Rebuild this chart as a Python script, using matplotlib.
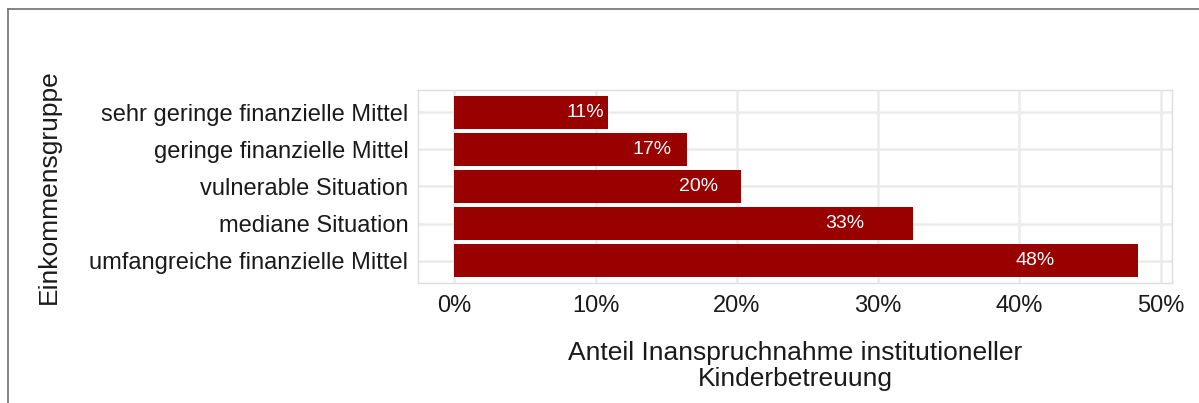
import matplotlib.pyplot as plt
from matplotlib.lines import Line2D
import numpy as np

plt.rcParams['font.family'] = ['Liberation Sans', 'DejaVu Sans']

groups = ['sehr geringe finanzielle Mittel', 'geringe finanzielle Mittel',
          'vulnerable Situation', 'mediane Situation',
          'umfangreiche finanzielle Mittel']
shares = [10.9, 16.5, 20.3, 32.5, 48.4]
labels = ['11%', '17%', '20%', '33%', '48%']
xticks = [0, 10, 20, 30, 40, 50]

fig = plt.figure(figsize=(11.99, 4.03), dpi=100)
ax = fig.add_axes([418 / 1199, 1 - 283 / 403, (1172 - 418) / 1199, (283 - 90) / 403])

y = np.arange(len(groups))[::-1]
ax.barh(y, shares, height=0.9, color='#990000', zorder=3)
for yi, v, lab in zip(y, shares, labels):
    ax.text(v * 0.85, yi, lab, color='white', ha='center', va='center',
            fontsize=14, zorder=4)

ax.set_xlim(-2.57, 50.8)
ax.set_ylim(-0.6, len(groups) - 0.4)
ax.set_yticks(y)
ax.set_yticklabels(groups)
ax.set_xticks(xticks)
ax.set_xticklabels([f'{t}%' for t in xticks])
ax.tick_params(length=0, labelsize=17, labelcolor='#1a1a1a')
ax.tick_params(axis='y', pad=7)
ax.tick_params(axis='x', pad=9)
ax.grid(True, color='#ebebeb', linewidth=1.8, zorder=0)
for s in ax.spines.values():
    s.set_color('#dedede')
    s.set_linewidth(1.0)

ax.set_xlabel('Anteil Inanspruchnahme institutioneller\nKinderbetreuung',
              fontsize=19, labelpad=17, linespacing=1.12, color='#1a1a1a')
ax.set_ylabel('Einkommensgruppe', fontsize=19, color='#1a1a1a')
ax.yaxis.set_label_coords(-0.474, 0.5)

# frame around the figure (only top and left visible)
fig.add_artist(Line2D([8 / 1199, 8 / 1199], [0, 1 - 9 / 403], transform=fig.transFigure,
                      color='#707070', linewidth=1.2))
fig.add_artist(Line2D([8 / 1199, 1], [1 - 9 / 403, 1 - 9 / 403], transform=fig.transFigure,
                      color='#707070', linewidth=1.2))

fig.savefig('out.png', dpi=100)
